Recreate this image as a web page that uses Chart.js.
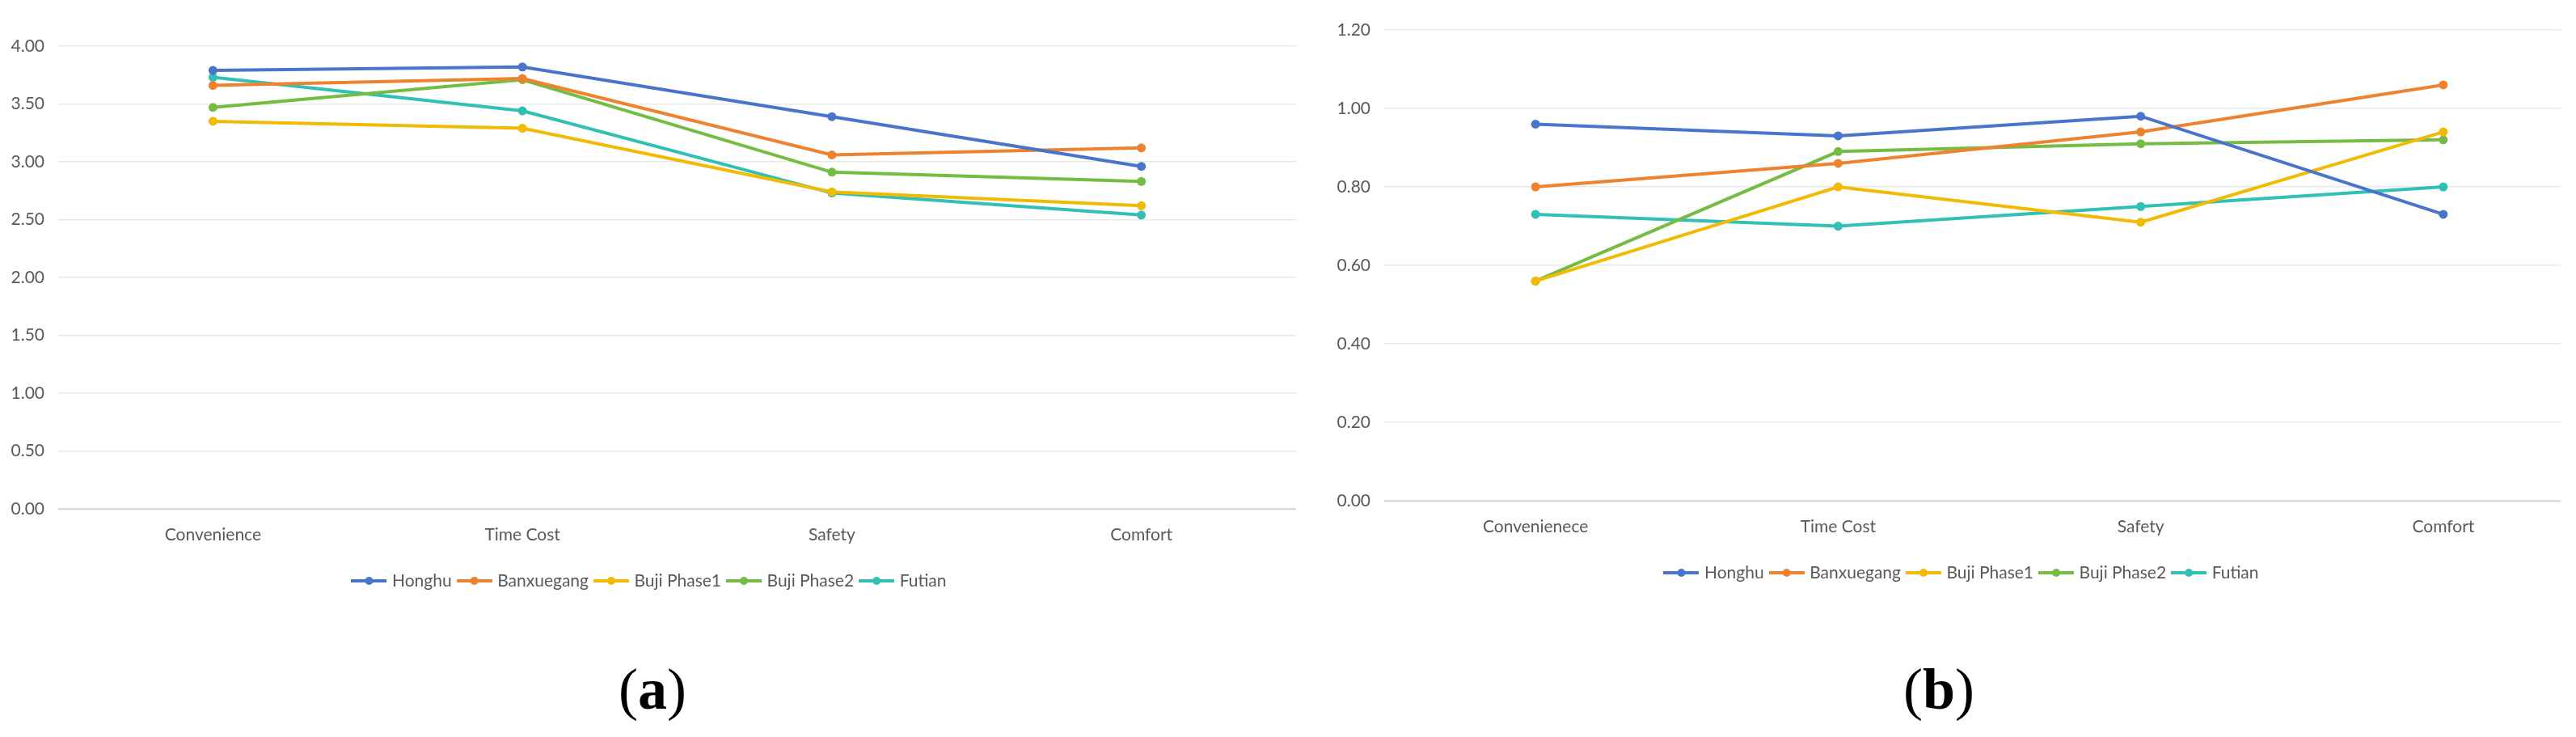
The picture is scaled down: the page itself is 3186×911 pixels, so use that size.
<!DOCTYPE html>
<html>
<head>
<meta charset="utf-8">
<script src="https://cdn.jsdelivr.net/npm/chart.js@4.4.1/dist/chart.umd.min.js"></script>
<style>
html, body { margin: 0; padding: 0; background: #fff; overflow: hidden; }
body { width: 3186px; height: 911px; position: relative; }
.wrap { position: absolute; top: 0; overflow: hidden; height: 780px; }
#wrapA { left: 6px; width: 1634px; }
#wrapB { left: 1646px; width: 1521px; }
canvas { display: block; }
.caption {
    position: absolute; top: 852px;
    font-family: "Liberation Serif", "Times New Roman", serif;
    font-size: 72px; line-height: 1; color: #000;
    transform: translate(-50%, -50%);
}
</style>
</head>
<body>
<div class="wrap" id="wrapA"><canvas id="chartA" width="1634" height="780"></canvas></div>
<div class="wrap" id="wrapB"><canvas id="chartB" width="1600" height="780"></canvas></div>
<div class="caption" style="left:807px">(<b>a</b>)</div>
<div class="caption" style="left:2398px">(<b>b</b>)</div>

<script>
// Data
const categoriesA = ['Convenience', 'Time Cost', 'Safety', 'Comfort'];
const categoriesB = ['Convenienece', 'Time Cost', 'Safety', 'Comfort'];
const seriesNames = ['Honghu', 'Banxuegang', 'Buji Phase1', 'Buji Phase2', 'Futian'];
const seriesColors = ['#4874CB', '#EE822F', '#F2BA02', '#75BD42', '#30C0B4'];

// (a) scores
const honghuA     = [3.79, 3.82, 3.39, 2.96];
const banxuegangA = [3.66, 3.72, 3.06, 3.12];
const bujiPhase1A = [3.35, 3.29, 2.74, 2.62];
const bujiPhase2A = [3.47, 3.71, 2.91, 2.83];
const futianA     = [3.73, 3.44, 2.73, 2.54];

// (b) scores
const honghuB     = [0.96, 0.93, 0.98, 0.73];
const banxuegangB = [0.80, 0.86, 0.94, 1.06];
const bujiPhase1B = [0.56, 0.80, 0.71, 0.94];
const bujiPhase2B = [0.56, 0.89, 0.91, 0.92];
const futianB     = [0.73, 0.70, 0.75, 0.80];

const yTicksA = [0, 0.5, 1, 1.5, 2, 2.5, 3, 3.5, 4];
const yTicksB = [0, 0.2, 0.4, 0.6, 0.8, 1.0, 1.2];

const textColor = '#595959';
const fontFamily = 'Lato, "Open Sans", sans-serif';

// Legend icon: short line with a dot in the middle
function legendIcon(color) {
    const c = document.createElement('canvas');
    c.width = 44;
    c.height = 14;
    const g = c.getContext('2d');
    g.strokeStyle = color;
    g.lineWidth = 4;
    g.beginPath();
    g.moveTo(0, 7);
    g.lineTo(44, 7);
    g.stroke();
    g.fillStyle = color;
    g.beginPath();
    g.arc(22, 7, 5, 0, Math.PI * 2);
    g.fill();
    return c;
}

function buildDatasets(seriesValues) {
    return seriesValues.map((values, i) => ({
        label: seriesNames[i],
        data: values,
        borderColor: seriesColors[i],
        backgroundColor: seriesColors[i],
        pointBackgroundColor: seriesColors[i],
        pointBorderColor: seriesColors[i],
        borderWidth: 4,
        pointRadius: 5.5,
        pointBorderWidth: 0,
        tension: 0
    }));
}

function makeChart(canvasId, labels, seriesValues, yTicks, layout) {
    const icons = seriesColors.map(legendIcon);
    return new Chart(document.getElementById(canvasId), {
        type: 'line',
        data: { labels: labels, datasets: buildDatasets(seriesValues) },
        options: {
            responsive: false,
            animation: false,
            devicePixelRatio: 1,
            layout: { padding: layout.padding },
            scales: {
                x: {
                    offset: true,
                    grid: { display: false, drawTicks: false },
                    border: { display: false },
                    ticks: { color: textColor, font: { family: fontFamily, size: 21 }, padding: 20, maxRotation: 0 },
                    afterFit: scale => { scale.height = layout.xHeight; }
                },
                y: {
                    min: yTicks[0],
                    max: yTicks[yTicks.length - 1],
                    afterBuildTicks: scale => { scale.ticks = yTicks.map(v => ({ value: v })); },
                    afterFit: scale => { scale.width = layout.yWidth; },
                    grid: {
                        drawTicks: false,
                        color: ctx => ctx.tick && ctx.tick.value === 0 ? '#d9d9d9' : '#e9e9e9',
                        lineWidth: ctx => ctx.tick && ctx.tick.value === 0 ? 2.5 : 1.5
                    },
                    border: { display: false },
                    ticks: {
                        color: textColor,
                        font: { family: fontFamily, size: 21 },
                        padding: 17,
                        callback: v => Number(v).toFixed(2)
                    }
                }
            },
            plugins: {
                tooltip: { enabled: false },
                legend: {
                    position: 'bottom',
                    labels: {
                        usePointStyle: true,
                        pointStyleWidth: 36,
                        padding: 10,
                        color: textColor,
                        font: { family: fontFamily, size: 21 },
                        generateLabels: chart => chart.data.datasets.map((ds, i) => ({
                            text: ds.label,
                            fillStyle: ds.borderColor,
                            strokeStyle: ds.borderColor,
                            fontColor: textColor,
                            lineWidth: 0,
                            pointStyle: icons[i],
                            hidden: false,
                            datasetIndex: i
                        }))
                    }
                }
            }
        }
    });
}

function draw() {
    makeChart('chartA', categoriesA,
        [honghuA, banxuegangA, bujiPhase1A, bujiPhase2A, futianA], yTicksA,
        { padding: { left: 0, top: 57, right: 37, bottom: 41.5 }, yWidth: 66, xHeight: 68.5 });

    makeChart('chartB', categoriesB,
        [honghuB, banxuegangB, bujiPhase1B, bujiPhase2B, futianB], yTicksB,
        { padding: { left: 0, top: 37, right: 37, bottom: 51.5 }, yWidth: 66, xHeight: 68.5 });
}

if (document.fonts && document.fonts.load) {
    document.fonts.load('21px Lato').then(draw, draw);
} else {
    draw();
}
</script>
</body>
</html>
